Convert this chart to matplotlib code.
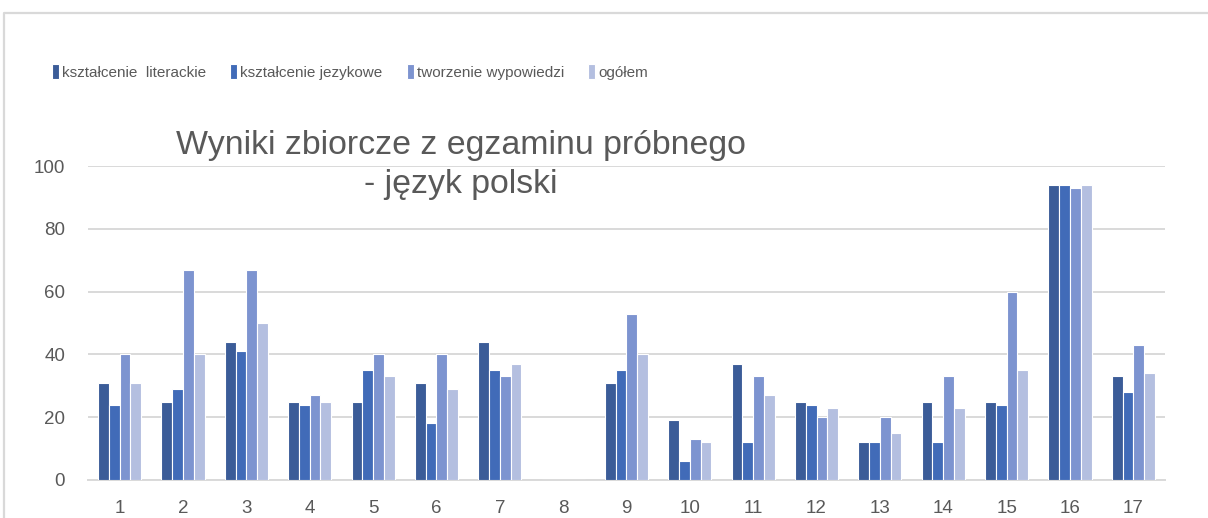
"""
Wyniki zbiorcze z egzaminu próbnego - język polski
wykres słupkowy grupowany (4 serie, 17 zadań)
"""

import numpy as np
import matplotlib

matplotlib.use("Agg")
import matplotlib.pyplot as plt
from matplotlib.lines import Line2D

plt.rcParams["font.family"] = ["Liberation Sans", "DejaVu Sans"]

# dane
zadania = [str(i) for i in range(1, 18)]
ksztalcenie_literackie = [31, 25, 44, 25, 25, 31, 44, 0, 31, 19, 37, 25, 12, 25, 25, 94, 33]
ksztalcenie_jezykowe = [24, 29, 41, 24, 35, 18, 35, 0, 35, 6, 12, 24, 12, 12, 24, 94, 28]
tworzenie_wypowiedzi = [40, 67, 67, 27, 40, 40, 33, 0, 53, 13, 33, 20, 20, 33, 60, 93, 43]
ogolem = [31, 40, 50, 25, 33, 29, 37, 0, 40, 12, 27, 23, 15, 23, 35, 94, 34]

serie = [
    ("kształcenie  literackie", ksztalcenie_literackie, "#3B5C98"),
    ("kształcenie jezykowe", ksztalcenie_jezykowe, "#416BB8"),
    ("tworzenie wypowiedzi", tworzenie_wypowiedzi, "#7D94D0"),
    ("ogółem", ogolem, "#B4BFE0"),
]

SZARY = "#595959"
SIATKA = "#D9D9D9"

fig = plt.figure(figsize=(12.08, 5.18), dpi=100)
ax = fig.add_axes([0.0728, 0.0734, 0.8916, 0.606])

x = np.arange(len(zadania))
w = 0.17
for i, (nazwa, wartosci, kolor) in enumerate(serie):
    ax.bar(
        x + (i - 1.5) * w,
        wartosci,
        width=w,
        color=kolor,
        edgecolor="white",
        linewidth=0.8,
        label=nazwa,
        zorder=3,
    )

ax.set_xlim(-0.5, len(zadania) - 0.5)
ax.set_ylim(0, 100)
ax.set_yticks(range(0, 101, 20))
ax.set_xticks(x)
ax.set_xticklabels(zadania)
ax.tick_params(axis="both", length=0, labelsize=13.5, labelcolor=SZARY)
ax.tick_params(axis="x", pad=14.5)
ax.tick_params(axis="y", pad=16.5)

ax.grid(axis="y", color=SIATKA, linewidth=1.4, zorder=0)
for s in ["top", "right", "left"]:
    ax.spines[s].set_visible(False)
ax.spines["bottom"].set_color(SIATKA)
ax.spines["bottom"].set_linewidth(1.4)

# tytuł (ostatnia linia na linii bazowej)
fig.text(
    461 / 1208,
    1 - 193 / 518,
    "Wyniki zbiorcze z egzaminu próbnego\n- język polski",
    ha="center",
    va="baseline",
    multialignment="center",
    fontsize=24.4,
    color=SZARY,
    linespacing=1.32,
    zorder=5,
)

# legenda
leg = fig.legend(
    loc="center left",
    bbox_to_anchor=(44 / 1208, 1 - 72 / 518),
    ncol=4,
    frameon=False,
    fontsize=11,
    handlelength=0.45,
    handleheight=1.1,
    handletextpad=0.2,
    columnspacing=1.6,
    borderpad=0,
)
for t in leg.get_texts():
    t.set_color(SZARY)

# ramka wykresu
fig.add_artist(
    Line2D(
        [4 / 1208, 4 / 1208, 1.0],
        [0.0, 1 - 13 / 518, 1 - 13 / 518],
        transform=fig.transFigure,
        color=SIATKA,
        linewidth=1.6,
    )
)

fig.savefig("out.png", dpi=100)
